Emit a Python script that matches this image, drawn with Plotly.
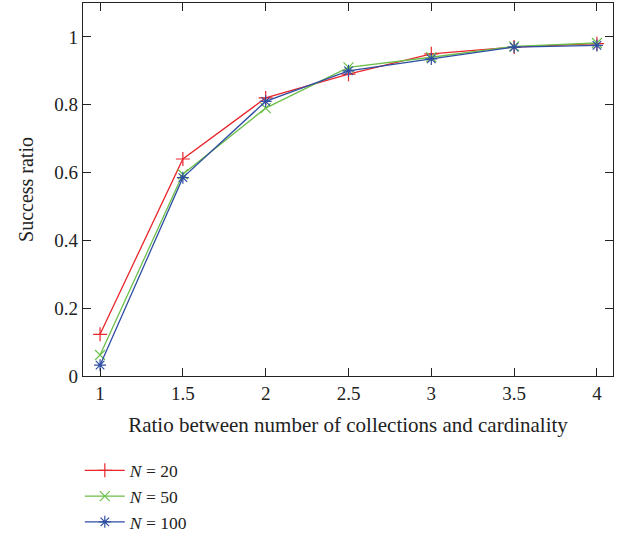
import plotly.graph_objects as go

ratios = [1, 1.5, 2, 2.5, 3, 3.5, 4]
n20 = [0.123, 0.64, 0.82, 0.89, 0.95, 0.97, 0.98]
n50 = [0.062, 0.595, 0.79, 0.91, 0.94, 0.972, 0.982]
n100 = [0.032, 0.585, 0.81, 0.90, 0.935, 0.97, 0.975]
names = ["<i>N</i> = 20", "<i>N</i> = 50", "<i>N</i> = 100"]
colors = ["#e8262b", "#6cbf4a", "#2f4ea3"]
symbols = ["cross-thin", "x-thin", "asterisk"]
xticks = ["1", "1.5", "2", "2.5", "3", "3.5", "4"]
yvals = [0, 0.2, 0.4, 0.6, 0.8, 1]
yticks = ["0", "0.2", "0.4", "0.6", "0.8", "1"]

fig = go.Figure()
for ys, nm, c, s in zip([n20, n50, n100], names, colors, symbols):
    fig.add_trace(go.Scatter(
        x=ratios, y=ys, name=nm, mode="lines+markers",
        line=dict(color=c, width=1.3),
        marker=dict(symbol=s, size=10, color=c, line=dict(color=c, width=1.2)),
    ))

font = "Liberation Serif, DejaVu Serif, serif"
fig.update_layout(
    width=622, height=539,
    margin=dict(l=83, r=9, t=3, b=163, autoexpand=False),
    paper_bgcolor="white", plot_bgcolor="white",
    font=dict(family=font, size=19, color="#222"),
    showlegend=True,
    legend=dict(x=-0.006, y=-0.205, xanchor="left", yanchor="top",
                font=dict(family=font, size=17.5), tracegroupgap=0,
                itemwidth=40, bgcolor="rgba(0,0,0,0)"),
    xaxis=dict(range=[0.897, 4.097], tickvals=ratios, ticktext=xticks, automargin=False,
               ticks="inside", ticklen=8, tickcolor="#222", showline=True, linecolor="#222", linewidth=1.2,
               mirror="ticks", showgrid=False, zeroline=False,
               title=dict(text="Ratio between number of collections and cardinality", standoff=14,
                          font=dict(family=font, size=21))),
    yaxis=dict(range=[0, 1.1], tickvals=yvals, ticktext=yticks, automargin=False,
               ticks="inside", ticklen=8, tickcolor="#222", showline=True, linecolor="#222", linewidth=1.2,
               mirror="ticks", showgrid=False, zeroline=False,
               title=dict(text="Success ratio", standoff=15, font=dict(family=font, size=20))),
)
fig.write_html("out.html", config={"displayModeBar": False},
               post_script="document.body.style.margin='0';")
